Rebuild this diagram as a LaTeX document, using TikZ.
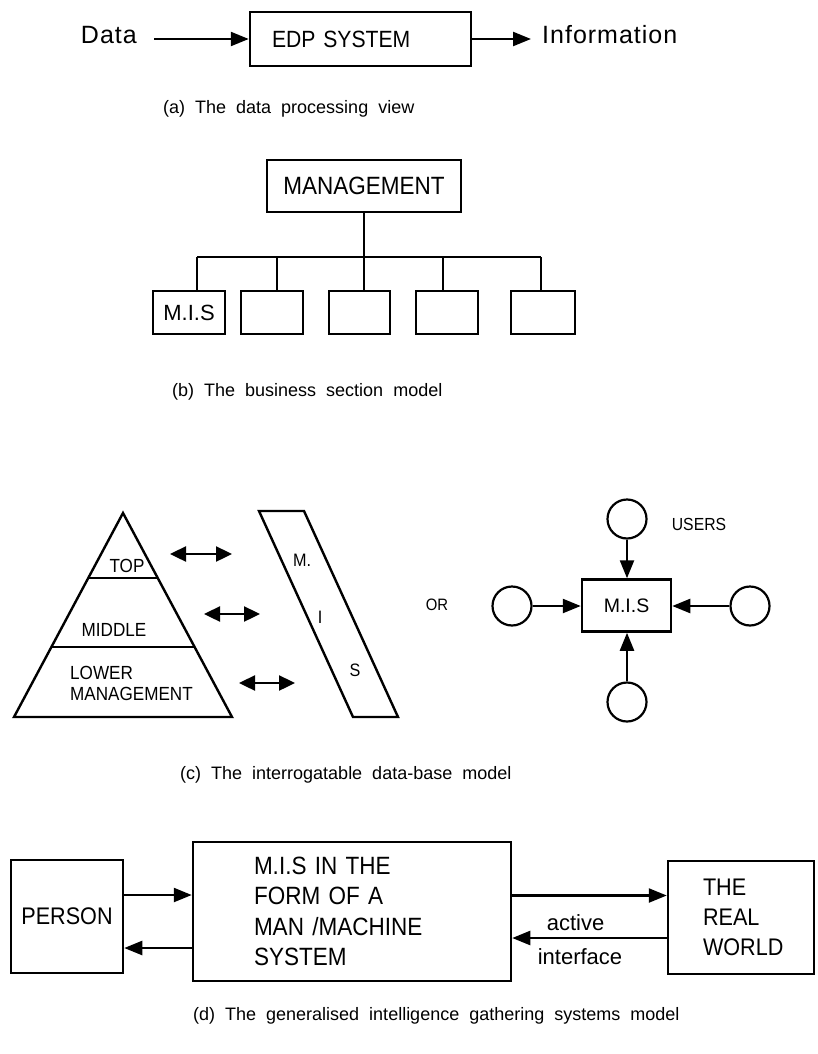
\documentclass[tikz,border=0pt]{standalone}
\usepackage{fontspec}
\setmainfont{Liberation Sans}
\newfontfamily\capfont[WordSpace=2]{Liberation Sans}
\newfontfamily\condfont[FakeStretch=0.9]{Liberation Sans}
\newfontfamily\widefont[LetterSpace=4]{Liberation Sans}
\usetikzlibrary{arrows.meta,calc}
\newcommand{\pxsize}[1]{\fontsize{#1}{#1}\selectfont}

\begin{document}
\begin{tikzpicture}[
    x=1pt, y=-1pt,
    box/.style={draw, line width=2.5pt, inner sep=0pt},
    link/.style={line width=2.4pt},
    arr/.style={line width=2.4pt, -{Triangle[length=18pt,width=14pt]}},
    dbl/.style={line width=2.4pt, {Triangle[length=16pt,width=15pt]}-{Triangle[length=16pt,width=15pt]}},
    user/.style={circle, draw, line width=2.2pt, minimum size=39pt, inner sep=0pt},
    caption/.style={anchor=west, inner sep=0pt, font=\capfont\pxsize{18}}
]
    \useasboundingbox (0,0) rectangle (817,1054);

    % (a) data processing view
    \node[box, minimum height=54pt, text width=177pt, inner xsep=22pt, align=left, font=\condfont\pxsize{23.5}] (edp) at (360.5,39) {EDP SYSTEM};
    \node[anchor=east, inner sep=0pt, font=\widefont\pxsize{25}] (data) at (137,35) {Data};
    \node[anchor=west, inner sep=0pt, font=\widefont\pxsize{25}] (info) at (542,35) {Information};
    \draw[arr, shorten <=17pt] (data.east |- edp.west) -- (edp.west);
    \draw[arr, shorten >=11pt] (edp.east) -- (edp.east -| info.west);
    \node[caption] (capa) at (163,109) {(a) The data processing view};

    % (b) business sections
    \node[box, minimum width=194pt, minimum height=52pt, font=\condfont\pxsize{25}] (mgmt) at (364,186) {MANAGEMENT};
    \node[box, minimum width=72pt, minimum height=43pt, font=\pxsize{22}] (sec1) at (189,312.5) {M.I.S};
    \node[box, minimum width=62pt, minimum height=43pt] (sec2) at (272,312.5) {};
    \node[box, minimum width=61pt, minimum height=43pt] (sec3) at (359.5,312.5) {};
    \node[box, minimum width=62pt, minimum height=43pt] (sec4) at (447,312.5) {};
    \node[box, minimum width=64pt, minimum height=43pt] (sec5) at (543,312.5) {};
    \coordinate (bus) at (364,257);
    \draw[link] (mgmt.south) -- (bus);
    \foreach \s/\dx in {sec1/8,sec2/5,sec3/4.5,sec4/-4,sec5/-2} {
        \coordinate (top-\s) at ([xshift=\dx pt]\s.north);
        \draw[link] (top-\s |- bus) -- (top-\s);
    }
    \draw[link] (top-sec1 |- bus) -- (top-sec5 |- bus);
    \node[caption] (capb) at (172,392) {(b) The business section model};

    % (c) pyramid and data-base
    \coordinate (apex) at (123,513);
    \coordinate (baseL) at (14,717);
    \coordinate (baseR) at (232,717);
    \draw[link, line join=miter] (apex) -- (baseL) -- (baseR) -- cycle;
    \draw[link] ($(apex)!0.319!(baseL)$) -- ($(apex)!0.319!(baseR)$);
    \draw[link] ($(apex)!0.657!(baseL)$) -- ($(apex)!0.657!(baseR)$);
    \node[font=\condfont\pxsize{19}] (top) at (127,566) {TOP};
    \node[font=\condfont\pxsize{19}] (middle) at (114,630) {MIDDLE};
    \node[anchor=west, align=left, inner sep=0pt, font=\condfont\fontsize{19}{21}\selectfont] (lower) at (70,683) {LOWER\\MANAGEMENT};

    \draw[link, line join=miter] (259,511) -- (304,511) -- (398,717) -- (353,717) -- cycle;
    \node[font=\condfont\pxsize{18}] (misM) at (302,560) {M.};
    \node[font=\condfont\pxsize{18}] (misI) at (320,617) {I};
    \node[font=\condfont\pxsize{18}] (misS) at (355,670) {S};

    \foreach \i/\y/\xa/\xb in {1/554/170/232, 2/614/204/260, 3/683/239/295} {
        \coordinate (lvl\i) at (\xa,\y);
        \coordinate (db\i) at (\xb,\y);
        \draw[dbl] (lvl\i) -- (db\i);
    }

    \node[font=\condfont\pxsize{16.5}] (or) at (437,605) {OR};
    \node[box, minimum width=89pt, minimum height=52pt, font=\pxsize{19.5}] (hub) at (626.5,605.5) {M.I.S};
    \node[user] (uN) at (627,519) {};
    \node[user] (uW) at (512,606) {};
    \node[user] (uE) at (750,606) {};
    \node[user] (uS) at (627,702) {};
    \node[font=\condfont\pxsize{17.5}] (users) at (699,524) {USERS};
    \draw[arr] (uN) -- (uN |- hub.north);
    \draw[arr] (uS) -- (uS |- hub.south);
    \draw[arr] (uW) -- (uW -| hub.west);
    \draw[arr] (uE) -- (uE -| hub.east);
    \node[caption] (capc) at (180,775) {(c) The interrogatable data-base model};

    % (d) intelligence gathering
    \node[box, minimum width=112pt, minimum height=113pt, font=\condfont\pxsize{24}] (person) at (67,916.5) {PERSON};
    \node[box, minimum height=139pt, text width=196pt, inner xsep=61pt, align=left, font=\condfont\fontsize{25}{30.5}\selectfont] (mms) at (352,911.5) {M.I.S IN THE\\FORM OF A\\MAN /MACHINE\\SYSTEM};
    \node[box, minimum height=113pt, text width=76pt, inner xsep=35pt, align=left, font=\condfont\fontsize{24}{30}\selectfont] (world) at (741,917.5) {THE\\REAL\\WORLD};
    \coordinate (p2m) at ([yshift=21.5pt]person.east);
    \coordinate (m2p) at ([yshift=-36.5pt]mms.west);
    \coordinate (m2w) at ([yshift=16pt]mms.east);
    \coordinate (w2m) at ([yshift=-20.5pt]world.west);
    \draw[arr] (p2m) -- (p2m -| mms.west);
    \draw[arr] (m2p) -- (m2p -| person.east);
    \draw[arr] (m2w) -- (m2w -| world.west);
    \draw[arr] (w2m) -- (w2m -| mms.east);
    \node[font=\pxsize{22}] (active) at (575.5,923) {active};
    \node[font=\pxsize{22}] (iface) at (580,957) {interface};
    \node[caption] (capd) at (193,1016) {(d) The generalised intelligence gathering systems model};
\end{tikzpicture}
\end{document}
